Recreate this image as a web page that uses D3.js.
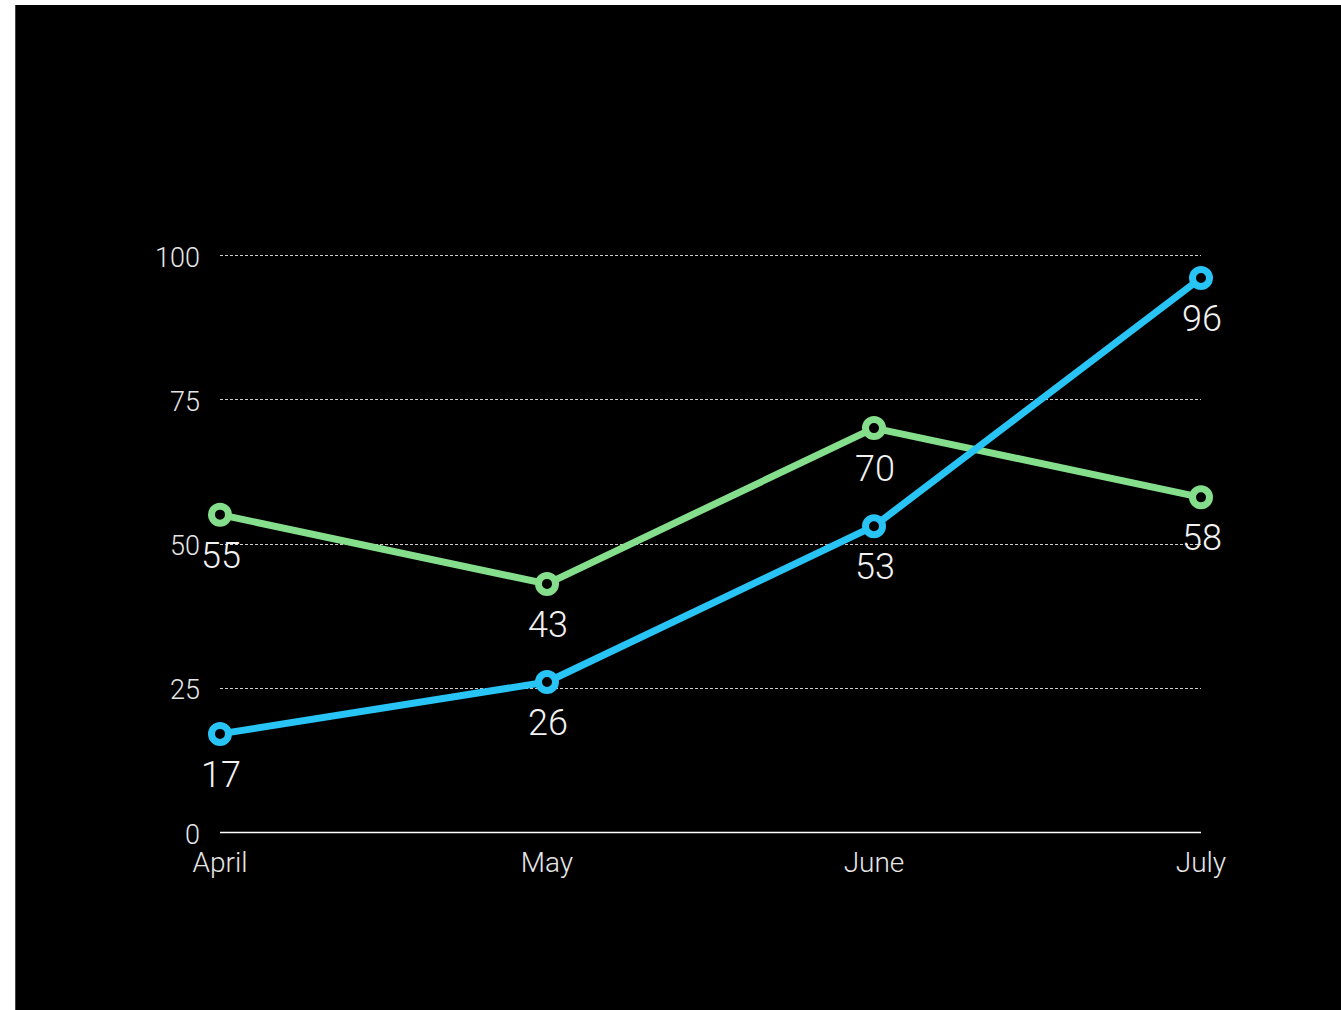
<!DOCTYPE html>
<html>
<head>
<meta charset="utf-8">
<script src="https://cdn.jsdelivr.net/npm/d3@7"></script>
<style>
  html, body { margin: 0; padding: 0; background: #fff; }
  svg { position: absolute; left: 15px; top: 5px; display: block; }
</style>
</head>
<body>
<svg id="chart"></svg>
<script>
const categories = ["April", "May", "June", "July"];
const seriesGreen = [55, 43, 70, 58];
const seriesBlue = [17, 26, 53, 96];
const yTicks = [0, 25, 50, 75, 100];

const W = 1326, H = 1005;
const ox = 15, oy = 5;
const svg = d3.select("#chart").attr("width", W).attr("height", H);
svg.append("rect").attr("width", W).attr("height", H).attr("fill", "#000");
svg.append("line").attr("x1", 0.5).attr("x2", 0.5).attr("y1", 0).attr("y2", H)
   .attr("stroke", "#444").attr("stroke-width", 1);

const g = svg.append("g").attr("transform", `translate(${-ox},${-oy})`);
const font = "Roboto, 'Helvetica Neue', sans-serif";

const x = d3.scalePoint().domain(categories).range([220, 1201]);
const y = d3.scaleLinear().domain([0, 100]).range([832, 255]);

// gridlines
g.selectAll(".grid").data(yTicks.filter(d => d > 0)).join("line")
  .attr("x1", 220).attr("x2", 1201)
  .attr("y1", d => Math.round(y(d)) + 0.5).attr("y2", d => Math.round(y(d)) + 0.5)
  .attr("stroke", "#cfcfcf").attr("stroke-width", 1).attr("stroke-dasharray", "3,2");

// baseline
g.append("line").attr("x1", 220).attr("x2", 1201)
  .attr("y1", Math.round(y(0)) + 0.5).attr("y2", Math.round(y(0)) + 0.5)
  .attr("stroke", "#fff").attr("stroke-width", 1.5);

// y axis labels
g.selectAll(".ylab").data(yTicks).join("text")
  .attr("x", 200).attr("y", d => y(d) + 2)
  .attr("dy", "0.36em")
  .attr("text-anchor", "end")
  .attr("font-family", font).attr("font-weight", 300)
  .attr("font-size", 27).attr("fill", "#e6e6e6")
  .text(d => d);

// x axis labels
g.selectAll(".xlab").data(categories).join("text")
  .attr("x", d => x(d)).attr("y", 862)
  .attr("dy", "0.36em")
  .attr("text-anchor", "middle")
  .attr("font-family", font).attr("font-weight", 300)
  .attr("font-size", 28).attr("fill", "#e6e6e6")
  .text(d => d);

const series = [
  { values: seriesGreen, color: "#84de8b" },
  { values: seriesBlue, color: "#27c4f5" }
];

const line = d3.line().x((d, i) => x(categories[i])).y(d => y(d));

series.forEach(s => {
  const sg = g.append("g");
  sg.append("path").datum(s.values)
    .attr("d", line).attr("fill", "none")
    .attr("stroke", s.color).attr("stroke-width", 7)
    .attr("stroke-linejoin", "round");
  sg.selectAll("circle").data(s.values).join("circle")
    .attr("cx", (d, i) => x(categories[i])).attr("cy", d => y(d))
    .attr("r", 8.5).attr("fill", "#000")
    .attr("stroke", s.color).attr("stroke-width", 7);
  sg.selectAll("text").data(s.values).join("text")
    .attr("x", (d, i) => x(categories[i]) + 1).attr("y", d => y(d) + 40)
    .attr("dy", "0.36em")
    .attr("text-anchor", "middle")
    .attr("font-family", font).attr("font-weight", 300)
    .attr("font-size", 36).attr("fill", "#f2f2f2")
    .text(d => d);
});
</script>
</body>
</html>
